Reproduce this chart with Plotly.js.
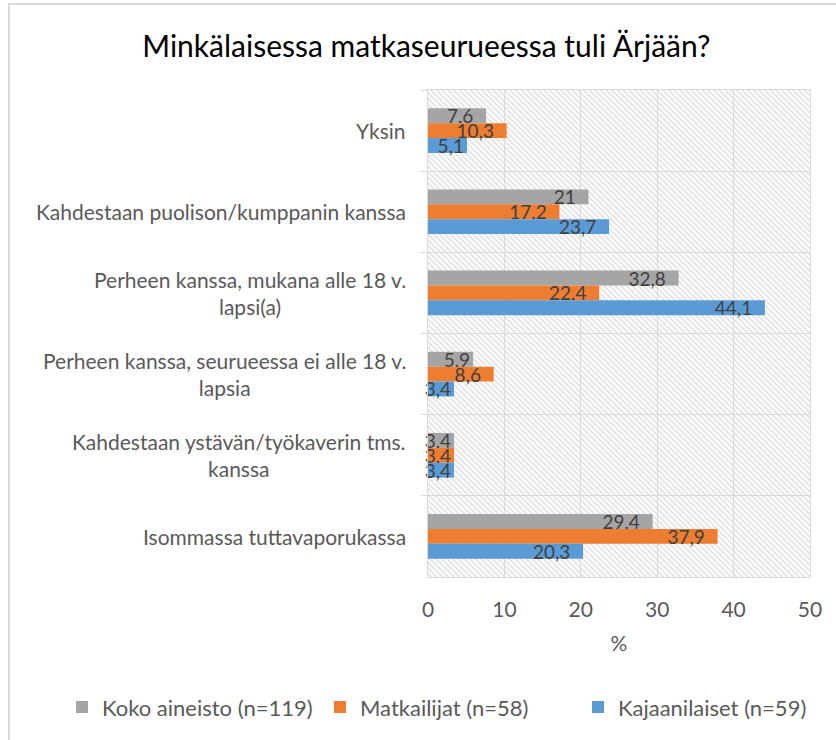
<!DOCTYPE html>
<html>
<head>
<meta charset="utf-8">
<script src="https://cdn.plot.ly/plotly-3.0.1.min.js"></script>
<style>
  html, body { margin: 0; padding: 0; background: #ffffff; }
  #wrap { position: relative; width: 836px; height: 740px; overflow: hidden; }
  #chart { position: absolute; left: 0; top: 0; width: 836px; height: 740px; }
  #frame { position: absolute; left: 8px; top: 3px; width: 900px; height: 900px;
           border-left: 2px solid #d9d9d9; border-top: 2px solid #d9d9d9; pointer-events: none; }
</style>
</head>
<body>
<div id="wrap">
  <div id="chart"></div>
  <div id="frame"></div>
</div>
<script>
const categories = [
  "Yksin",
  "Kahdestaan puolison/kumppanin kanssa",
  "Perheen kanssa, mukana alle 18 v.<br>lapsi(a)",
  "Perheen kanssa, seurueessa ei alle 18 v.<br>lapsia",
  "Kahdestaan ystävän/työkaverin tms.<br>kanssa",
  "Isommassa tuttavaporukassa"
];
const seriesNames = ["Koko aineisto (n=119)", "Matkailijat (n=58)", "Kajaanilaiset (n=59)"];
const kokoAineisto = [7.6, 21, 32.8, 5.9, 3.4, 29.4];
const matkailijat = [10.3, 17.2, 22.4, 8.6, 3.4, 37.9];
const kajaanilaiset = [5.1, 23.7, 44.1, 3.4, 3.4, 20.3];
const xTicks = [0, 10, 20, 30, 40, 50];
const colors = ["#A5A5A5", "#ED7D31", "#5B9BD5"];

const FONT = "Lato, 'Open Sans', 'DejaVu Sans', sans-serif";
const fmt = v => String(v).replace('.', ',') + (v >= 7 ? '\u00a0\u00a0' : '');

const ids = categories.map((c, i) => 'c' + i);
const allSeries = [kokoAineisto, matkailijat, kajaanilaiset];

const traces = allSeries.map((vals, k) => ({
  type: 'bar',
  orientation: 'h',
  name: seriesNames[k],
  x: vals,
  y: ids,
  marker: { color: colors[k], line: { width: 0 } },
  text: vals.map(fmt),
  textposition: 'inside',
  insidetextanchor: 'end',
  constraintext: 'none',
  cliponaxis: false,
  textfont: { family: FONT, size: 19, color: '#404040' },
  hoverinfo: 'x+name'
}));

const annotations = categories.map((c, i) => ({
  xref: 'paper', yref: 'y',
  x: 0, y: ids[i],
  xanchor: 'right', yanchor: 'middle',
  xshift: -20,
  align: 'center',
  showarrow: false,
  text: c,
  font: { family: FONT, size: 21, color: '#595959' }
}));

const layout = {
  width: 836, height: 740,
  margin: { l: 428, r: 26, t: 90, b: 160 },
  paper_bgcolor: 'rgba(0,0,0,0)',
  plot_bgcolor: '#ffffff',
  barmode: 'group',
  bargap: 0.45,
  bargroupgap: 0,
  separators: ', ',
  title: {
    text: 'Minkälaisessa matkaseurueessa tuli Ärjään?',
    font: { family: FONT, size: 30, color: '#000000' },
    x: 0.51, xanchor: 'center',
    y: 1 - 46 / 740, yanchor: 'middle', yref: 'container'
  },
  xaxis: {
    range: [0, 50],
    tickvals: xTicks,
    ticktext: xTicks.map(String),
    showgrid: true, gridcolor: '#d9d9d9', gridwidth: 1,
    zeroline: false,
    showline: true, linecolor: '#d9d9d9', linewidth: 1, mirror: true,
    ticks: '',
    ticklabelstandoff: 14,
    tickfont: { family: FONT, size: 21, color: '#595959' },
    title: { text: '%', font: { family: FONT, size: 21, color: '#595959' }, standoff: 16 },
    fixedrange: true
  },
  yaxis: {
    type: 'category',
    autorange: 'reversed',
    tickson: 'boundaries',
    showgrid: true, gridcolor: '#d9d9d9', gridwidth: 1,
    showticklabels: false,
    ticks: 'outside', ticklen: 6, tickcolor: '#d9d9d9',
    showline: true, linecolor: '#d9d9d9', linewidth: 1, mirror: true,
    zeroline: false,
    fixedrange: true
  },
  legend: {
    orientation: 'h',
    xref: 'paper', yref: 'paper',
    x: -0.9, xanchor: 'left',
    y: (580 - 711) / 490, yanchor: 'middle',
    font: { family: FONT, size: 22, color: '#595959' },
    itemwidth: 30,
    entrywidth: 213, entrywidthmode: 'pixels',
    traceorder: 'normal'
  },
  annotations: annotations,
  showlegend: true
};

Plotly.newPlot('chart', traces, layout, { displayModeBar: false, staticPlot: true }).then(gd => {
  const svg = gd.querySelector('.main-svg');
  const ns = 'http://www.w3.org/2000/svg';
  let defs = svg.querySelector('defs');
  if (!defs) { defs = document.createElementNS(ns, 'defs'); svg.insertBefore(defs, svg.firstChild); }
  const pat = document.createElementNS(ns, 'pattern');
  pat.setAttribute('id', 'hatchbg');
  pat.setAttribute('patternUnits', 'userSpaceOnUse');
  pat.setAttribute('width', '4');
  pat.setAttribute('height', '4');
  pat.setAttribute('patternTransform', 'rotate(-45)');
  const r = document.createElementNS(ns, 'rect');
  r.setAttribute('width', '4'); r.setAttribute('height', '4'); r.setAttribute('fill', '#ffffff');
  const l = document.createElementNS(ns, 'line');
  l.setAttribute('x1', '1'); l.setAttribute('y1', '0'); l.setAttribute('x2', '1'); l.setAttribute('y2', '4');
  l.setAttribute('stroke', '#d0d0d0'); l.setAttribute('stroke-width', '1.1');
  pat.appendChild(r); pat.appendChild(l);
  defs.appendChild(pat);
  gd.querySelectorAll('rect.bg').forEach(el => { el.style.fill = 'url(#hatchbg)'; });
});
</script>
</body>
</html>
